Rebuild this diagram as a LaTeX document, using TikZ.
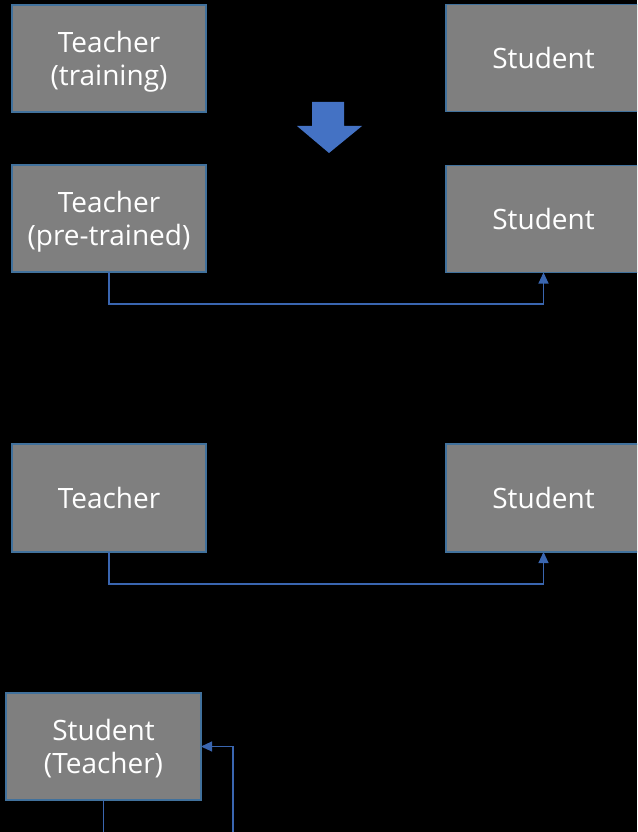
\documentclass[tikz,border=0pt]{standalone}
\usepackage{fontspec}
\setmainfont{Open Sans}
\usetikzlibrary{arrows.meta}
\definecolor{boxfill}{HTML}{7F7F7F}
\definecolor{boxline}{HTML}{41719C}
\definecolor{arrowblue}{HTML}{4472C4}
\definecolor{linkblue}{HTML}{3A66B0}
\newcommand\twoline[2]{\raisebox{-4pt}[\height][\depth]{\begin{tabular}{@{}c@{}}#1\\#2\end{tabular}}}
\begin{document}
\begin{tikzpicture}[x=1pt,y=-1pt,
  box/.style={draw=boxline,fill=boxfill,line width=1.3pt,minimum height=107pt,
    inner sep=0pt,outer sep=0pt,align=center,text=white,
    font=\fontsize{28}{33}\selectfont},
  link/.style={draw=linkblue,line width=1.1pt},
  tip/.style={-{Triangle[width=10pt,length=11pt]}}]
\fill[black] (0,0) rectangle (637,832);
\clip (0,0) rectangle (637,832);
\node[box,minimum width=194pt] (t1) at (109,58.5) {\twoline{Teacher}{(training)}};
\node[box,minimum width=195pt] (s1) at (543.5,58) {Student};
\fill[arrowblue] (312,102) -- (344,102) -- (344,126) -- (362,126) -- (329,153) -- (297,126) -- (312,126) -- cycle;
\node[box,minimum width=194pt] (t2) at (109,218.5) {\twoline{Teacher}{(pre-trained)}};
\node[box,minimum width=195pt] (s2) at (543.5,219) {Student};
\coordinate (r2) at (0,304);
\draw[link,tip] (t2.south) -- (t2.south |- r2) -| (s2.south);
\node[box,minimum width=194pt,minimum height=108pt] (t3) at (109,498) {Teacher};
\node[box,minimum width=195pt,minimum height=108pt] (s3) at (543.5,498) {Student};
\coordinate (r3) at (0,584);
\draw[link,tip] (t3.south) -- (t3.south |- r3) -| (s3.south);
\node[box,minimum width=195pt] (st) at (103.5,746.5) {\twoline{Student}{(Teacher)}};
\coordinate (b1) at (103.5,840);
\coordinate (b2) at (233,840);
\draw[link] (st.south) -- (b1);
\draw[link,tip] (b2) |- (st.east);
\end{tikzpicture}
\end{document}
